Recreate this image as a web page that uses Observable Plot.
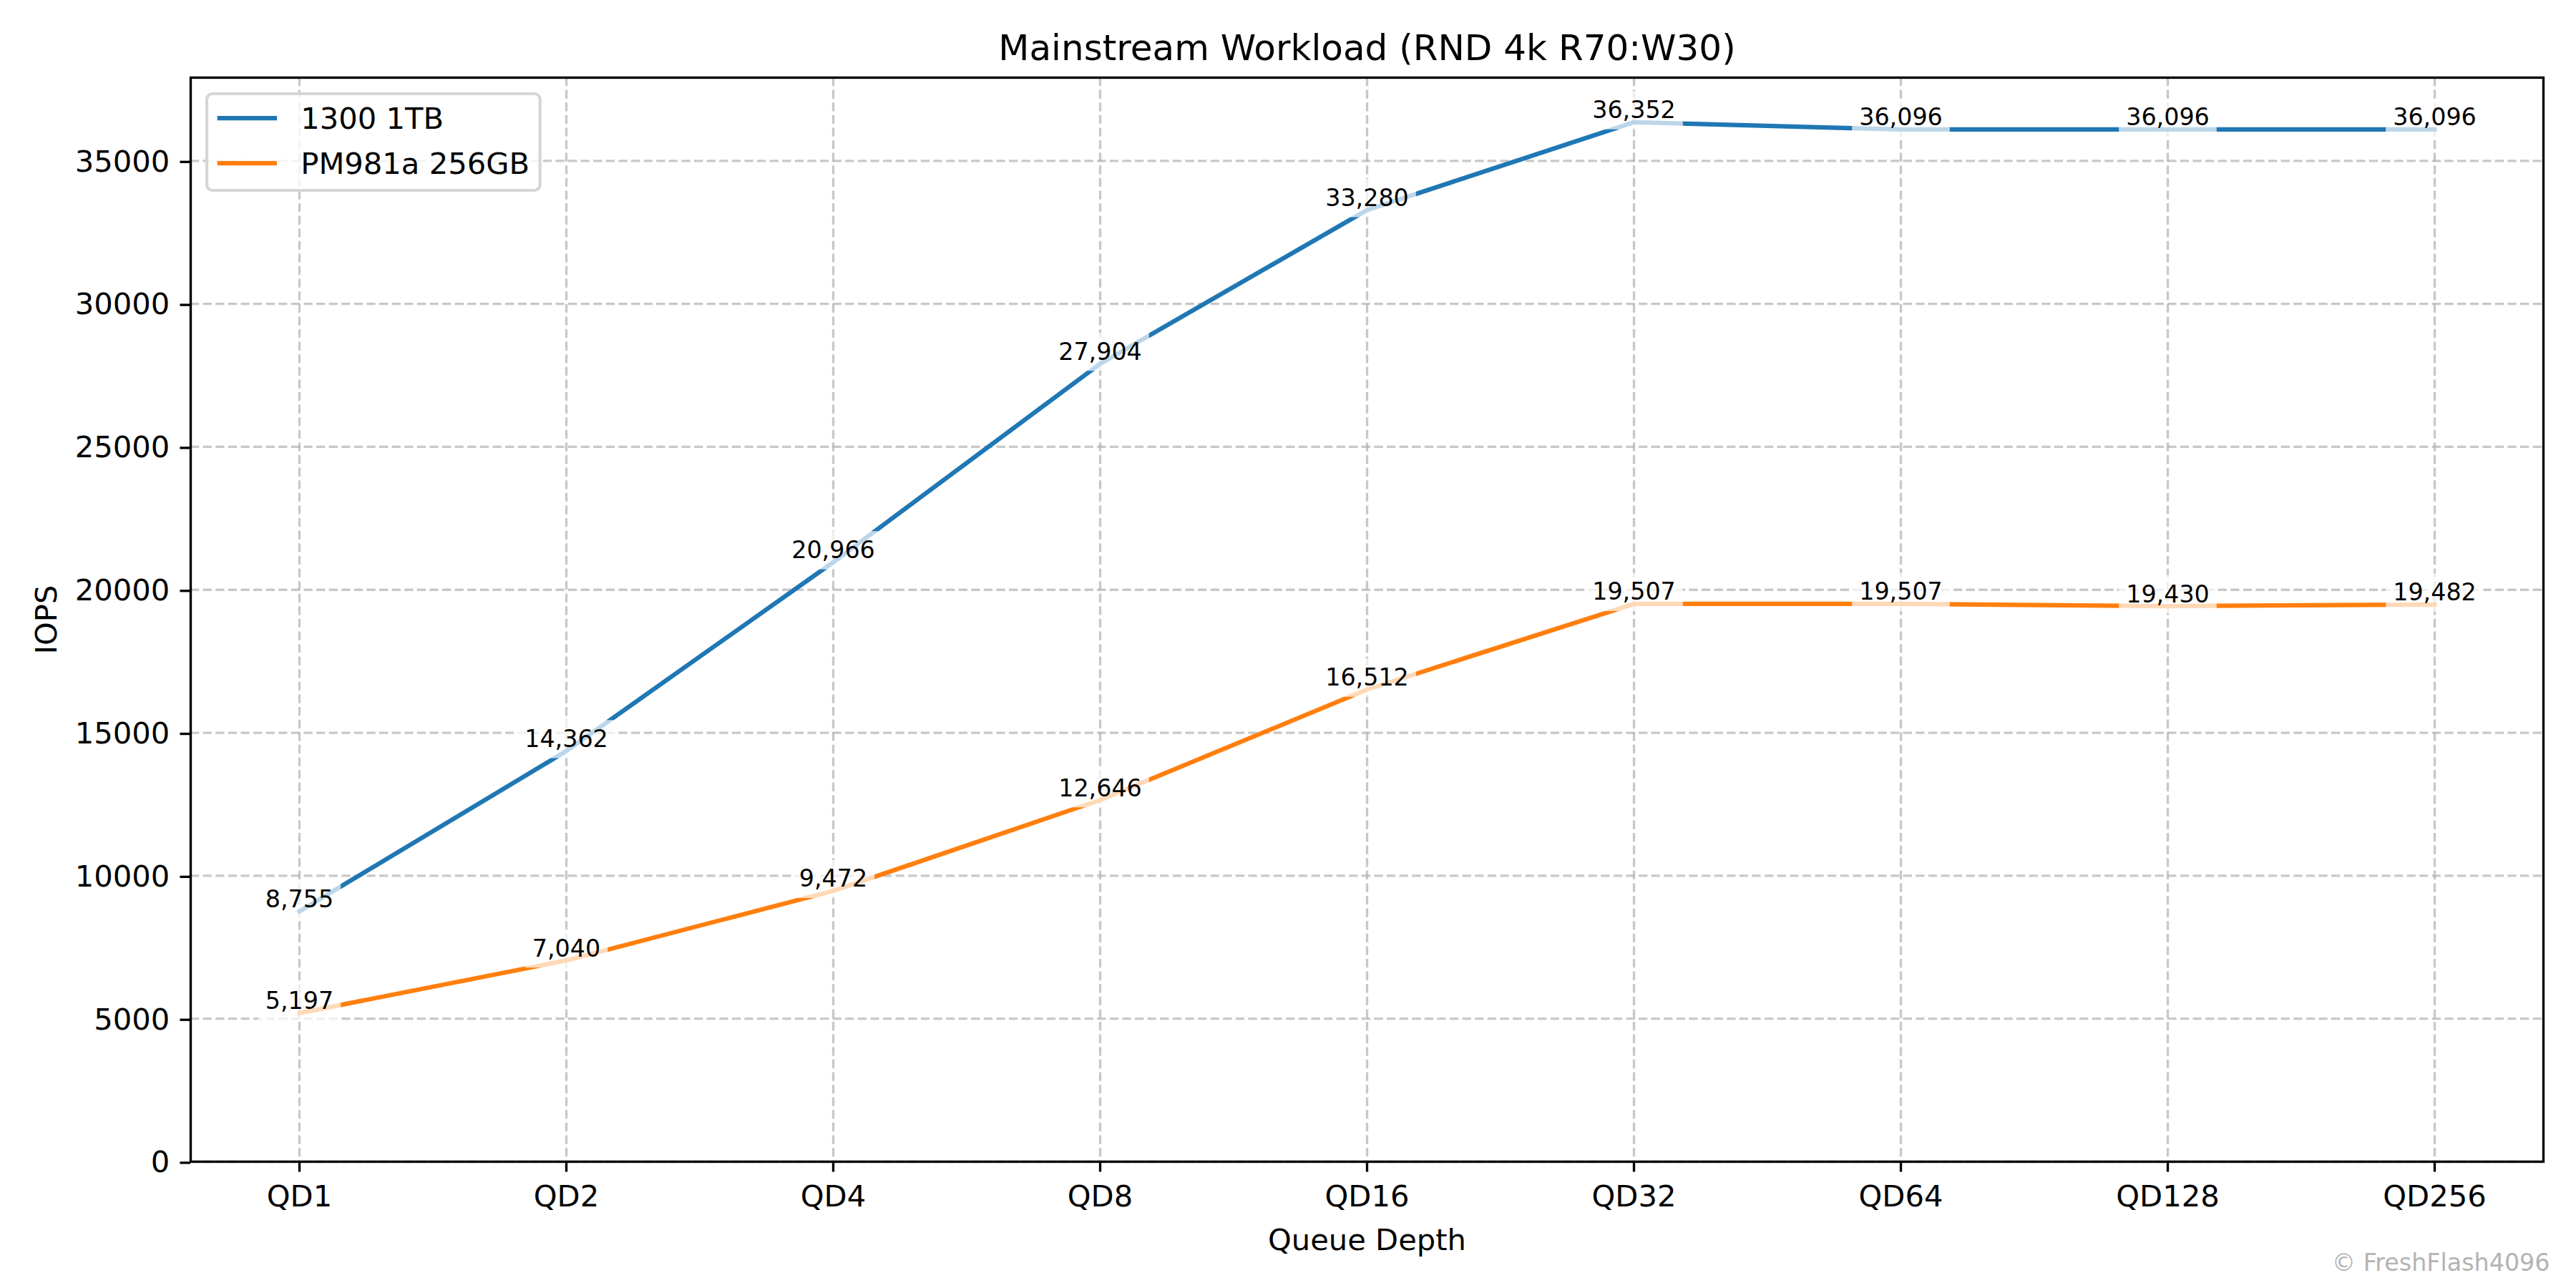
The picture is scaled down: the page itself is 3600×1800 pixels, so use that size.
<!DOCTYPE html>
<html>
<head>
<meta charset="utf-8">
<script src="https://cdn.jsdelivr.net/npm/d3@7"></script>
<script src="https://cdn.jsdelivr.net/npm/@observablehq/plot@0.6"></script>
<style>
  body { margin: 0; background: #fff; }
  #chart { position: relative; width: 3600px; height: 1800px; font-family: 'DejaVu Sans'; }
  #legend { position: absolute; left: 0; top: 0; pointer-events: none; }
</style>
</head>
<body>
<div id="chart"></div>
<script>
// ---- data ----
const queueDepths = ["QD1", "QD2", "QD4", "QD8", "QD16", "QD32", "QD64", "QD128", "QD256"];
const series1300 = [8755, 14362, 20966, 27904, 33280, 36352, 36096, 36096, 36096];
const seriesPM981a = [5197, 7040, 9472, 12646, 16512, 19507, 19507, 19430, 19482];
const seriesNames = ["1300 1TB", "PM981a 256GB"];
const seriesColors = ["#1f77b4", "#ff7f0e"];
const yTicks = [0, 5000, 10000, 15000, 20000, 25000, 30000, 35000];
const titleText = "Mainstream Workload (RND 4k R70:W30)";
const xLabelText = "Queue Depth";
const yLabelText = "IOPS";
const watermarkText = "© FreshFlash4096";

// ---- table ----
const rows = [];
[series1300, seriesPM981a].forEach((vals, si) =>
  vals.forEach((v, i) => rows.push({ qd: queueDepths[i], iops: v, series: seriesNames[si] }))
);

const fmt = d3.format(",");
const labelSize = 33.33;
const tickSize = 41.67;
const ctx = document.createElement("canvas").getContext("2d");
ctx.font = `${labelSize}px 'DejaVu Sans'`;

// white semi-transparent boxes behind the value labels
const pad = 10;
const boxMarks = rows.map(r => {
  const w = ctx.measureText(fmt(r.iops)).width;
  const sym = { draw(c) { c.rect(-w / 2 - pad, -labelSize - pad, w + 2 * pad, labelSize + 2 * pad); } };
  return Plot.dot([r], { x: "qd", y: "iops", r: 1, symbol: sym, fill: "white", fillOpacity: 0.7, stroke: "none" });
});

const gridStyle = { stroke: "#b0b0b0", strokeOpacity: 0.7, strokeWidth: 3.33, strokeDasharray: "12.3,5.3" };

const plot = Plot.plot({
  width: 3600,
  height: 1800,
  marginLeft: 266,
  marginRight: 46,
  marginTop: 108,
  marginBottom: 177,
  style: { fontFamily: "'DejaVu Sans'", background: "white", color: "black", overflow: "visible" },
  x: { type: "point", domain: queueDepths, padding: 0.4 },
  y: { domain: [0, 37910] },
  color: { domain: seriesNames, range: seriesColors },
  marks: [
    Plot.gridY(yTicks, gridStyle),
    Plot.gridX(queueDepths, gridStyle),
    Plot.line(rows, { x: "qd", y: "iops", z: "series", stroke: "series", strokeWidth: 6.25, strokeLinecap: "square", strokeLinejoin: "round" }),
    Plot.frame({ stroke: "black", strokeWidth: 3.33 }),
    Plot.axisX({ tickSize: 14.6, tickPadding: 18, fontSize: tickSize, strokeWidth: 3.33, label: null }),
    Plot.axisY({ ticks: yTicks, tickSize: 14.6, tickPadding: 14.6, fontSize: tickSize, strokeWidth: 3.33, tickFormat: d3.format("d"), label: null, dy: 1.5 }),
    ...boxMarks,
    Plot.text(rows, { x: "qd", y: "iops", text: d => fmt(d.iops), fontSize: labelSize, lineAnchor: "bottom", dy: -5.5, fill: "black" }),
    Plot.text([titleText], { text: d => d, frameAnchor: "top", dy: -25, lineAnchor: "bottom", fontSize: 50, fill: "black" }),
    Plot.text([xLabelText], { text: d => d, frameAnchor: "bottom", dy: 123, lineAnchor: "bottom", fontSize: tickSize, fill: "black" }),
    Plot.text([yLabelText], { text: d => d, frameAnchor: "left", dx: -188, rotate: -90, lineAnchor: "bottom", textAnchor: "middle", fontSize: tickSize, fill: "black" }),
    Plot.text([watermarkText], { text: d => d, frameAnchor: "bottom-right", dx: 9, dy: 152, lineAnchor: "bottom", textAnchor: "end", fontSize: labelSize, fill: "#b3b3b3" })
  ]
});

const chart = document.getElementById("chart");
chart.appendChild(plot);

// ---- legend (upper left, matplotlib style) ----
ctx.font = `${tickSize}px 'DejaVu Sans'`;
const maxW = Math.max(...seriesNames.map(s => ctx.measureText(s).width));
const lx = 287, ly = 129;
const bpad = 16.7, handleLen = 83.3, handleGap = 33.3, rowH = 63;
const textX = lx + bpad + handleLen + handleGap;
const boxW = textX + maxW + bpad - lx;
const boxH = 139;
const ns = "http://www.w3.org/2000/svg";
const svg = document.createElementNS(ns, "svg");
svg.setAttribute("id", "legend");
svg.setAttribute("width", 3600);
svg.setAttribute("height", 1800);
const rect = document.createElementNS(ns, "rect");
rect.setAttribute("x", lx + 2);
rect.setAttribute("y", ly + 2);
rect.setAttribute("width", boxW - 4);
rect.setAttribute("height", boxH - 4);
rect.setAttribute("rx", 8);
rect.setAttribute("fill", "white");
rect.setAttribute("fill-opacity", 0.8);
rect.setAttribute("stroke", "#d6d6d6");
rect.setAttribute("stroke-width", 4.17);
svg.appendChild(rect);
seriesNames.forEach((name, i) => {
  const cy = 165 + i * rowH;
  const ln = document.createElementNS(ns, "line");
  ln.setAttribute("x1", lx + bpad);
  ln.setAttribute("x2", lx + bpad + handleLen);
  ln.setAttribute("y1", cy);
  ln.setAttribute("y2", cy);
  ln.setAttribute("stroke", seriesColors[i]);
  ln.setAttribute("stroke-width", 6.25);
  svg.appendChild(ln);
  const t = document.createElementNS(ns, "text");
  t.setAttribute("x", textX);
  t.setAttribute("y", cy + 14.5);
  t.setAttribute("font-family", "DejaVu Sans");
  t.setAttribute("font-size", tickSize);
  t.setAttribute("fill", "black");
  t.textContent = name;
  svg.appendChild(t);
});
chart.appendChild(svg);
</script>
</body>
</html>
